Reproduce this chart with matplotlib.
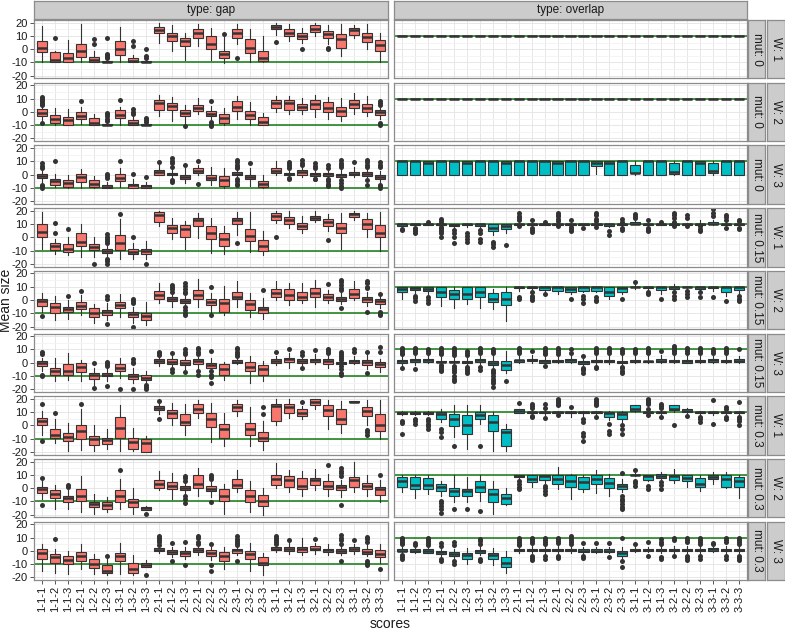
import matplotlib
matplotlib.use('Agg')
import matplotlib.pyplot as plt

plt.rcParams['font.family'] = ['Liberation Sans', 'DejaVu Sans']

# ---- data: (whisker low, q1, median, q3, whisker high) per score, outliers by score index ----
scores = ['1-1-1', '1-1-2', '1-1-3', '1-2-1', '1-2-2', '1-2-3', '1-3-1', '1-3-2', '1-3-3',
          '2-1-1', '2-1-2', '2-1-3', '2-2-1', '2-2-2', '2-2-3', '2-3-1', '2-3-2', '2-3-3',
          '3-1-1', '3-1-2', '3-1-3', '3-2-1', '3-2-2', '3-2-3', '3-3-1', '3-3-2', '3-3-3']
types = ['gap', 'overlap']
w_levels = ['1', '2', '3', '1', '2', '3', '1', '2', '3']
mut_levels = ['0', '0', '0', '0.15', '0.15', '0.15', '0.3', '0.3', '0.3']
target = {'gap': -10, 'overlap': 10}

gap_w1_m0 = [[-10, -2, 1, 6, 17.6], [-10, -10, -8, -2, -1.5], [-10, -10, -6.6, -3, 6.6], [-10, -6, -1, 4, 18.8],
             [-10, -10, -8, -6, -1.5], [-10, -10, -9.5, -8.6, -8], [-10, -4, 0, 6, 16.8], [-10, -10, -8.6, -7, -4],
             [-10, -10, -9.5, -8.6, -8], [4.8, 12, 14.5, 17, 20], [-1, 6, 10, 12, 18.3], [-8, 2.3, 6, 8.6, 12.5],
             [2.3, 8.6, 12.5, 15, 19.3], [-8, 0, 3.6, 10, 16.3], [-10.4, -6.6, -3.6, -1, 9.4], [3.6, 8.6, 12, 15.5, 19.3],
             [-10, -3, 1, 8, 15], [-10, -9, -6.6, -1, 10], [11, 15, 16.8, 18, 20], [6, 10, 12.5, 15, 19.3],
             [4.8, 7.4, 10, 12.5, 15.8], [10, 13, 15, 18, 20], [3.6, 8.6, 11.2, 13.7, 18.3], [-5.3, 1, 7.4, 11.2, 18.8],
             [8.1, 10.7, 14.2, 15.8, 18.3], [0, 5.6, 9.2, 12.5, 19.3], [-10, -1, 3, 6.9, 12.5]]
gap_w1_m0_out = {2: [8.7], 5: [7.4, 3.6], 6: [8.1, -3.3, -4.6, -5.8, -7], 8: [6, 2.3], 9: [0.3, -5.3, -6.6],
                 15: [11.7], 16: [-6.6], 19: [5.6], 21: [0], 23: [1, 0]}

gap_w2_m0 = [[-6, -3, -1, 2, 3.8], [-10, -8, -5.6, -2, 3.3], [-10, -10, -6.4, -4, 2], [-9.4, -5.6, -3, 0, 3.8],
             [-10, -10, -8, -4.8, -1.8], [-10, -10, -9.7, -9, -8.5], [-10, -4.8, -2.5, 1.3, 3.8], [-10, -10, -8, -6.4, -3],
             [-10, -10, -9.7, -9.4, -9], [-3, 1.3, 6.4, 8.9, 13], [-6.9, 1.3, 4.6, 6.9, 11], [-8, -3, -0.5, 1.8, 5.3],
             [-1.8, 0.8, 2.8, 5.3, 10.2], [-5.6, -3, -1.3, 0.8, 4.6], [-10, -8, -4.8, -1.8, 3.3], [-5.6, 0.8, 3.8, 8, 12],
             [-10, -5.6, -2.5, 0.8, 7.1], [-10, -10, -7.4, -3.8, -0.5], [0, 2.8, 6.4, 8.9, 11.7], [-1.8, 1.3, 6.4, 8.9, 12.2],
             [-1.8, 1.3, 3.8, 5.9, 10.2], [-3.8, 2, 5.9, 8.9, 13], [-5.6, 0.3, 2.8, 7.1, 11], [-6.9, -3, 0.8, 3.8, 10.2],
             [-1.8, 2.8, 5.9, 8.9, 14.5], [-3, 0.3, 2.8, 5.9, 12], [-5.6, -2.3, 0, 1.5, 3.3]]
gap_w2_m0_out = {1: [11, 10, 9, 8, 7, 6, 5, -8], 4: [8.4], 6: [-0.5, -1.8, -3, -5, -7], 7: [8.9], 8: [2, 0, -1.8],
                 9: [-4.3, -5.8, -7.4], 12: [-10.7], 14: [8.4, -7.4, -9.4, -10.7], 27: [8.4, 7, 5.3, -8, -10]}

gap_w3_m0 = [[-5.6, -2.5, -1, 0.8, 3.3], [-9.4, -7.6, -5, -3, 0.8], [-10, -9.4, -6, -3.8, 0], [-10, -5.6, -1.8, 0.8, 4],
             [-10, -9.4, -6.9, -4.3, -1], [-10, -10, -9.2, -8.1, -5.6], [-9.4, -5, -2.3, 0.8, 5], [-10, -10, -8.1, -6.9, -3],
             [-10, -10, -8.9, -7.6, -5.6], [-0.5, 0, 2, 3.8, 7.1], [-3, -0.5, 0.3, 1.3, 4], [-6, -3.6, -1.8, -0.5, 5],
             [-0.5, 1.3, 2.8, 4.6, 7.1], [-8.1, -4.3, -2.3, -0.5, 5.9], [-10, -8.6, -3.8, -1.3, 5], [-1.8, -0.5, 0.8, 2, 3.3],
             [-8.9, -3.6, -1.8, -0.5, 5], [-10, -9.4, -6.9, -4.8, 0], [-0.5, 1.3, 2.8, 4.6, 10.2], [-2, -0.5, 0.3, 1.3, 3.5],
             [-1.8, 0, 2, 3.3, 5.9], [-1.5, -1, 0.3, 1.3, 3], [-2.5, -1, 0.3, 1.3, 3], [-3.5, -1.8, -0.5, 0.8, 4],
             [-1.8, -0.5, 0.8, 2, 5.9], [-3, -1, 0.5, 2, 4.6], [-6, -3, -1.5, 0, 2.5]]
gap_w3_m0_out = {1: [8.4, 6.4, 4.6, -7.6, -8.9, -10.2], 2: [10.2], 6: [0.8, -1, -2.5], 7: [10.2], 8: [0.8], 9: [-1.8],
                 10: [9.2], 11: [12.2, 10.2, 8.4, 5.9, -4.3, -5.6], 12: [7.6], 13: [10.2, -6.9],
                 16: [11, 9.2, 7.6, 5.9, 4.6, -3, -5, -6.9, -8.1], 17: [8.4], 20: [9.7, 8, 6.4, 4.6, -2.5, -3],
                 21: [11, 9, 7.1], 22: [8.4, 6.4, 4.6, -3, -3.6], 23: [7.1, 5.3, -3.5, -5, -7, -8.6],
                 24: [11, 9, 7.1, 5.9, -4.3, -6.4, -8.4, -10.2], 25: [9.2], 26: [11, 9.2, 7.6, 5.9, -4.3, -7.6],
                 27: [9.2, 7.6, 5.9, -7.6, -8.9, -10.2]}

gap_w1_m15 = [[-8.5, 0.5, 3.8, 10.3, 19], [-12.3, -9.2, -6.7, -4, -1.5], [-13.6, -11, -8.5, -5.4, 0.5], [-15, -6.7, -3.3, 3, 10],
              [-15, -9.2, -7.2, -5.4, 0], [-14.4, -11.8, -10.5, -9, -5.9], [-16.2, -9.7, -4.1, 1.8, 13.8], [-16.2, -12.8, -11, -9, -4.6],
              [-16.2, -12.8, -10.5, -8.7, -2.6], [8.7, 11.3, 16.7, 19.2, 19.7], [-1.5, 3, 6.9, 9.5, 14.6], [-8.5, 0, 6.2, 9.5, 12],
              [-0.8, 8.2, 13.3, 14.6, 18.5], [-11.5, -1.5, 3, 8.2, 14.6], [-12.3, -6.7, -1.3, 3.6, 8.2], [1.8, 10.3, 12.8, 14.6, 19],
              [-11, -2.6, 1, 6.2, 19.2], [-13, -10.3, -6.4, -2, 4.4], [10.8, 13.3, 16.4, 18.5, 20], [6.9, 10.3, 13.3, 15.4, 19.7],
              [3, 6.2, 8.7, 11, 16], [11.3, 12.8, 14.6, 16.4, 19.7], [4.9, 8.7, 11.3, 13.8, 17.2], [-8.5, 3, 6.9, 10.8, 18.5],
              [13.3, 15.1, 17.2, 18.5, 19.7], [0.5, 6.2, 10.3, 13.8, 18], [-10.3, 0.5, 3, 9.2, 19]]
gap_w1_m15_out = {2: [10.8, 3], 3: [6.4], 5: [-20], 6: [2.3, 0, -1.5, -2.5, -4.6, -16.2, -18, -20], 7: [17.2], 8: [0.5],
                  9: [-20], 16: [-4.6], 19: [0], 23: [-2]}

gap_w2_m15 = [[-9, -4.6, -1, 0.5, 5.6], [-15.3, -9.7, -5, -2.5, 3], [-14, -9.4, -7.1, -5.6, 0], [-11.5, -7.1, -4.6, -1.3, 3.8],
              [-17.3, -12.7, -9.7, -6.4, -3], [-15.3, -11.5, -9.4, -7.6, -2.5], [-12.7, -6.4, -3.8, -1.3, 4.6], [-17.3, -12.7, -10.9, -9.4, -5],
              [-19, -14.8, -12.2, -9.7, -1.3], [-2.5, 0.5, 3.8, 7.1, 12.7], [-5, -0.5, 1, 2.5, 5], [-3.8, -2, -0.8, 0.5, 3],
              [-5, 0.5, 3.8, 7.6, 15.8], [-9, -3.8, -1.3, 0.5, 5], [-11.5, -9, -2.5, 0.5, 10.7], [-5, 0.5, 2.5, 6.4, 14.5],
              [-12.7, -7.6, -3.3, 0, 5], [-14, -9.7, -6.9, -5, 1.3], [0, 2, 5, 8.1, 14.5], [-3.8, 0, 3.8, 8.1, 12.7],
              [-2.5, 0, 2.5, 6.4, 12.7], [-5.6, 2, 5, 8.9, 14.8], [-2.5, 0, 2, 4.6, 7.6], [-3, -0.5, 0.8, 2.5, 5],
              [0, 1.3, 4.6, 8.1, 14.5], [-4.6, -1.3, 0.8, 2.5, 6.4], [-6.4, -3, -0.8, 0.5, 2.5]]
gap_w2_m15_out = {1: [-12.2], 3: [3], 4: [7.1], 6: [3, 0.5, -18.3], 8: [0.5, -1, -2, -20], 11: [11.5, 10, 8.4, 6.4],
                  12: [12.7, 10.5, 8.4, 6.4, 5, -5, -7.6, -9.7, -11.5], 14: [9.7, -11.5], 18: [7.6], 23: [12],
                  24: [15.3, 13.5, 11.5, 9.4, 7.6, -6.4], 26: [14, 12.5, 10, 8.9, -9], 27: [4.6, -9, -10.5, -11.5]}

gap_w3_m15 = [[-6.3, -2.5, -0.5, 1.3, 3.8], [-13.9, -8.9, -6.3, -3.8, 3.8], [-13, -8.9, -6.3, -1.3, 7], [-13.9, -7, -3, 0, 2],
              [-16.5, -12, -9.5, -7.6, -3.8], [-13.9, -10, -8.9, -7.6, -3.8], [-11.4, -6.3, -3.8, -0.8, 3.8], [-15.2, -12, -10, -8.2, -3.8],
              [-15, -12.7, -11.4, -9.5, -6.3], [-2.5, 0, 1.3, 2.5, 5], [-3.8, -0.8, 0.8, 2.5, 5.5], [-5, -1.8, 0, 1.8, 5],
              [-3.8, -0.8, 1, 2.5, 4.5], [-5, -3.8, -1.8, 0, 3.8], [-12.7, -8.9, -5, -0.8, 0.5], [-1.3, -0.5, 0.8, 2, 3],
              [-15.5, -6.3, -3, 0.5, 5], [-13.9, -8.9, -5, -2, 1.3], [-2, 0, 1.3, 2.5, 5], [-3.8, 0.5, 2.5, 3.8, 7.6],
              [-2, 0, 1.3, 2.5, 5], [-1.3, 0.5, 2, 3, 6.3], [-3.8, -0.8, 1, 2.5, 5.5], [-2, -1.3, -0.3, 0.5, 1.5],
              [-1.3, 0, 1, 2, 5], [-5, -1.8, 0.5, 2, 5.5], [-7, -3.3, -1.3, 0.5, 3]]
gap_w3_m15_out = {1: [8.2, 6.3, -8.9, -10], 5: [0, -19], 6: [0.5, -1.3, -2.5, -17.7], 7: [-19.5], 8: [2.5, 0.5, -0.5, -19.5],
                  9: [-17, -18.5, -20], 10: [8.2, 7, 5.8], 11: [7.6, -5, -7], 12: [10, 8.2, 6.8, -7],
                  13: [11.4, 10, 8.2, 6.3, -6.3, -8.9], 14: [8.9, -6.3, -8.9, -10.5, -15], 16: [11.4, 10, 8.2, 6.3, 5],
                  19: [8], 20: [10], 21: [8, 5.5, -3.8], 22: [9.5], 23: [10, 8.9, 7],
                  24: [8.2, 6.8, 5, 3.8, 2, -2.5, -5, -7.6, -9.5], 25: [10.5, 8.2], 26: [8, -7.6], 27: [11.8, 8.2]}

gap_w1_m3 = [[-6.9, 0, 3.3, 5.8, 11], [-13.2, -9.4, -6.9, -3, 4.6], [-19.6, -12, -8.7, -5.6, 2], [-18.8, -10.2, -4.3, 0, 12.2],
             [-19.6, -14.5, -10.2, -8.1, 0], [-17.8, -13.7, -11.2, -9.4, -3], [-19.6, -9.4, -1.8, 6.6, 15.3], [-19.6, -17.8, -12.7, -9.4, -1.8],
             [-20, -20, -13.2, -10.2, -8.1], [8.4, 11.5, 13, 14.8, 16.8], [0, 5.8, 9.2, 11.5, 16.8], [-6.9, 0, 2.5, 8.4, 16],
             [5.8, 9.2, 12.2, 16, 19.3], [-12.7, -1, 5, 9.2, 16.8], [-15.8, -9.4, -2.5, 0.8, 9.2], [7.1, 11, 13.5, 16, 19.3],
             [-15.8, -6.9, -3, 2, 13.5], [-18.8, -12, -9.4, -4.8, 3.3], [0, 3.3, 14.8, 16, 19.8], [5.8, 9.2, 13.5, 16, 19.8],
             [4.6, 7.1, 9.7, 12.2, 14.8], [12.2, 15.3, 18, 19.8, 20], [-3, 7.1, 11.7, 15.5, 19.3], [-5.6, 0.8, 5, 12.7, 18.6],
             [17.8, 17.8, 18, 18.3, 18.3], [0, 7.1, 11, 14, 19.3], [-10.2, -4.3, 0, 8.4, 19.3]]
gap_w1_m3_out = {1: [16, -12], 2: [9.7], 4: [16], 10: [18.6, 5], 18: [14.2, 8.4], 21: [17.3], 26: [-3.6, -5, -6.9]}

gap_w2_m3 = [[-8.1, -3.6, -0.5, 0.8, 5.1], [-15.8, -7.6, -4.3, -1.8, 2], [-15.8, -10.2, -7.6, -5.6, -0.5], [-18.3, -9.4, -5.6, -0.5, 8.9],
             [-19.6, -14.5, -12, -10.2, -4.3], [-18.3, -15.8, -12.7, -10.7, -6.9], [-15.8, -10.2, -6.1, -1.8, 7.1], [-19.6, -14.5, -10.7, -8.1, 0],
             [-16.5, -16.5, -15.3, -14.5, -13.2], [-1.8, 0, 3.3, 5.8, 12.7], [-8.1, -0.5, 1.5, 4.6, 11.7], [-4.3, -1.8, 0, 1.5, 4.6],
             [-6.1, 0, 3.3, 9.7, 14.8], [-6.9, -2.5, -0.5, 1.5, 4.6], [-19.6, -9.4, -6.1, -1, 3.3], [-3, 0, 2.5, 7.1, 14],
             [-17.8, -10.2, -5.6, -1.8, 5.1], [-20, -13.7, -9.4, -5.1, 0], [0, 2, 7.1, 9.7, 18.6], [-3, 0.8, 5.8, 8.9, 13.5],
             [-5.6, -0.5, 1.5, 7.9, 12.7], [-1.8, 2, 5.8, 7.6, 14.2], [-5.6, -1, 1.5, 5.1, 10.9], [-6.9, -1.8, 0.8, 2.5, 5.8],
             [-3, 0.8, 5.8, 8.4, 19.8], [-5.6, -1, 1.5, 4, 10.2], [-10.7, -5.1, -1, 0.8, 5.8]]
gap_w2_m3_out = {1: [7.9, -12.7], 3: [2, 1], 7: [14], 9: [-19.6], 12: [9.2, 7.6, 5.1, -5.6, -8.1, -11],
                 14: [10.2, 8.7, 6.6, -10.7], 23: [17.3], 24: [14.8, 13.2, 11.7, 9.2, -12.7], 27: [9.7]}

gap_w3_m3 = [[-15, -6, -1.5, 1, 4.8], [-16.8, -9, -5, -2.3, 1.5], [-17.6, -10, -7, -4, -0.5], [-14, -7.4, -4, -1, 4.8],
             [-17.6, -13, -10, -6, -2.3], [-18, -16.5, -15, -10.5, -6], [-17.6, -7.4, -4, -1.8, 5.8], [-18.3, -16.5, -14, -9, -3],
             [-12.5, -12.5, -10.8, -9.5, -7], [-2, -0.5, 0.8, 2, 3.5], [-5, -2.3, -1, 0.3, 3], [-6.5, -3.6, -1.3, -0.3, 3],
             [-3, -0.8, 0.8, 2.2, 4], [-7, -3.6, -1.3, 0.3, 4], [-14, -8, -3.6, -1, 2.5], [-3.5, -1.3, 0.3, 1.5, 3.5],
             [-15, -6, -2.3, -0.5, 6.1], [-18.3, -11, -9, -4.8, -1.3], [-1, 0.3, 1.3, 2.5, 4], [-2.5, -0.5, 1.3, 3, 5.8],
             [-3.5, -1, 1, 3, 10], [-2.5, 0.3, 1.5, 3.6, 5.8], [-3, -1, 0.3, 1.5, 4.8], [-3.5, -1.3, -0.3, 1.5, 4.5],
             [-2.5, 0, 1.5, 3, 5.5], [-4, -2.3, -1, 1, 4.5], [-9, -4.8, -2.3, 0.3, 5.5]]
gap_w3_m3_out = {2: [9.2], 6: [-3.6], 9: [-18.3], 10: [11, 9.5, 8, 6.8, 4.5], 11: [6.1, -7.4], 12: [6.6, -11],
                 13: [11.5, 9.5, 7, 5], 14: [4.8, -10.5, -15.5], 16: [11, 9, 7.6, 6, 4.5, -7.4], 19: [11, 9.5, 8, 6.5, 5],
                 20: [8.4], 22: [9], 24: [12, 10, 8, 5.5, -7.4], 25: [8.4], 26: [10.5, 9, 6.5, -7.4, -9, -10.5], 27: [-14]}

ov_w1_m0 = [[10, 10, 10, 10, 10]] * 27
ov_w1_m0_out = {}
ov_w2_m0 = [[10, 10, 10, 10, 10]] * 27
ov_w2_m0_out = {}

ov_w3_m0 = [[0, 0, 10, 10, 10], [0, 0, 10, 10, 10], [0, 0, 8.5, 10, 10], [0, 0, 10, 10, 10], [0, 0, 10, 10, 10],
            [0, 0, 8.5, 10, 10], [0, 0, 10, 10, 10], [0, 0, 10, 10, 10], [0, 0, 8.5, 10, 10], [0, 0, 10, 10, 10],
            [0, 0, 10, 10, 10], [0, 0, 10, 10, 10], [0, 0, 8.5, 10, 10], [0, 0, 10, 10, 10], [0, 0, 10, 10, 10],
            [0.8, 6.6, 8.7, 10, 10], [0, 0, 8.5, 10, 10], [0, 0, 10, 10, 10], [0, 1, 1.3, 7.5, 10], [0, 0, 10, 10, 10],
            [0, 0, 10, 10, 10], [0, 0.8, 2, 9, 10], [0, 0, 10, 10, 10], [0, 0, 8.5, 10, 10], [0, 1.5, 3, 9, 10],
            [0, 0, 10, 10, 10], [0, 0, 10, 10, 10]]
ov_w3_m0_out = {}

ov_w1_m15 = [[8, 8.7, 10, 10, 10], [8.5, 9, 10, 10, 10], [9, 9.5, 10, 10, 10.5], [8.5, 9.5, 10, 10, 10],
             [6.5, 8.2, 9.5, 10, 10], [8, 9, 10, 10, 10], [8, 8.7, 10, 10, 10], [1.9, 4.4, 7, 10, 10],
             [3.1, 6.2, 8.2, 10, 10], [9, 9.5, 10, 10, 11], [8.5, 9.5, 10, 10, 10.5], [9, 9.5, 10, 10, 10.5],
             [9, 9.5, 10, 10, 11], [8.5, 9.5, 10, 10, 10.5], [9, 9.5, 10, 10, 10], [9, 9.5, 10, 10, 11],
             [8, 8.2, 9.7, 10, 10], [8.5, 9, 10, 10, 10.5], [10, 10, 10, 11.3, 13], [8.5, 9.5, 10, 10, 10.5],
             [9, 9.5, 10, 10, 10.5], [9, 9.5, 10, 10, 10.5], [9, 9.5, 10, 10, 10.5], [9, 9.5, 10, 10, 12.8],
             [9.5, 10, 10, 11.3, 13], [9, 9.5, 10, 10, 11], [8.5, 9.5, 10, 10, 10.5]]
ov_w1_m15_out = {1: [6.5, 5.5], 2: [7, 6, 5, 3], 3: [11.2], 4: [13.8, 12.5, 11, 8, 7, 6, 5, 3, 0],
                 5: [5.7, 3.5, 0.6, -4.5], 6: [3.1, 1, -1, -3.2], 7: [5.7, 3, -1, -3.2], 8: [-3.2, -5, -7], 9: [-5.8],
                 10: [18.4, 16.2, 14.5, 13.3, 8.2], 11: [12.8, 7, 5.5, 4], 12: [11.5], 13: [18.4, 17, 16, 14, 12.5, 8.2],
                 14: [13.3, 7.5, 6, 5], 15: [7], 16: [18.4, 16.5, 14, 12.5, 8], 17: [4.4, 1.9], 18: [13.8, 11.3, 7, 5.7],
                 19: [17.9, 16, 14.5], 20: [13.3, 7, 5.7, 4.5], 21: [11.5], 22: [18.4, 16.5, 14.5, 11.3, 8.7],
                 23: [17, 14.6, 8.2], 24: [8.2, 6, 4.4], 25: [21, 18, 16], 26: [17, 15, 13, 7], 27: [13.3, 12, 7, 6]}

ov_w2_m15 = [[0.6, 5.7, 8.2, 10, 10], [5, 7.5, 8.7, 10, 10], [4.5, 7, 8.2, 10, 10], [-4.5, 1.9, 5.7, 10, 10],
             [-5.8, 1.1, 4.4, 7.7, 9.5], [-3.2, 0.6, 4.4, 10, 10], [-5.8, 2.4, 6.2, 10, 10], [-7, -1.5, 1.1, 5.2, 8.2],
             [-16, -4, 1.1, 6.4, 10], [7, 8.7, 10, 10, 10], [7, 8.7, 10, 10, 10], [5.6, 7.7, 9.5, 10, 10],
             [4.4, 7, 9.5, 10, 10], [4.4, 6.2, 8.2, 10, 10], [6, 7, 9.5, 10, 10], [6, 7, 9.5, 10, 10],
             [0.6, 3.1, 5.7, 10, 10], [4.4, 6.2, 9.2, 10, 10], [8.2, 9.5, 10, 10, 11.3], [7, 8.7, 10, 10, 10],
             [4.4, 7.7, 9.5, 10, 10], [8, 8.2, 10, 10, 12], [8, 9.5, 10, 10, 10], [6.5, 8.2, 10, 10, 10],
             [7, 8.7, 10, 10, 10], [3, 6.2, 9.5, 10, 10], [5, 7.7, 9.5, 10, 10]]
ov_w2_m15_out = {2: [3.1, 1.5, -0.7], 3: [1.9, 0, -2], 10: [0.6, 2], 11: [5.7, 3, 1.5, 0], 12: [4.4], 14: [0.6],
                 15: [3.1, 1, -2], 16: [1.9, 0, -0.7], 18: [0.6], 19: [13.8], 20: [5.7, 4.5], 21: [0.6],
                 22: [5.7, 3, 0.6], 23: [7, 4.4, 1.9], 24: [5.7, 1.9], 25: [1.9], 26: [-0.7], 27: [3.1, 1, -0.7]}

ov_w3_m15 = [[-2.5, -0.2, 1.1, 2.4, 4.9], [-2, 0.6, 1.8, 3.1, 5], [0, 0.6, 1.8, 3.1, 6], [-1, 0.6, 0.8, 1.1, 5],
             [-1, 0.3, 0.8, 1.1, 5], [-2, -0.5, 0.8, 1.1, 5], [-1, 0.6, 1.8, 3.1, 5], [-3, -1.5, -0.2, 1.1, 5],
             [-7.8, -5.3, -1.5, 1.1, 8.7], [0, 0.6, 1.8, 2.4, 6], [0, 1, 2, 3.1, 6], [-1, 0, 1.2, 2.4, 5],
             [-0.5, 0.6, 1.2, 2, 5], [0, 0.6, 1.8, 3.1, 6.5], [-2, -0.7, 0.3, 1, 3], [-2, 0.6, 1.2, 2.4, 5],
             [-1, 0.6, 1.2, 2.4, 6], [-2, -0.2, 0.8, 1.1, 5], [0, 0.6, 1.2, 2.4, 6], [0, 0.6, 1, 1.5, 6],
             [-0.5, 0.4, 1.5, 2.9, 6], [0, 0.6, 1.2, 1.8, 6], [-0.5, 0.1, 1.5, 2.4, 6], [0, 0.6, 1.2, 1.8, 5],
             [0, 0.6, 1.8, 2.9, 6], [0, 0.6, 1.2, 1.8, 6], [-0.5, 0.6, 1.5, 2.9, 5]]
ov_w3_m15_out = {1: [11.3, 10, 8.7, 7.5, 6.2, -4], 2: [11.3, 10, 8.7, 7.5, -4.8], 3: [10, 8.5, 7.2],
                 4: [11.3, 10, 8.7, 7.5, 6.2, -2, -3.2, -4.5, -5.5, -6.5],
                 5: [11.3, 10, 9, 7.5, 6, -2.5, -4, -5.5, -7, -10, -12, -14], 6: [8.7, 7.5, 6, -3, -4.5, -6, -7.8],
                 7: [11.3, 10, 8.7, 7.5, -3, -5.3], 8: [10, 8.5, 7, -5.3, -7, -8, -10, -12, -13.5, -15, -18], 9: [-14],
                 10: [11.3, 10, 8.7, 7.5], 11: [8.7], 12: [11.3, 10, 8.7, 7, 6.2, -2.7], 13: [11.3, 9.5, 8, 6.2],
                 14: [10.5, 7.5], 15: [5, -4, -5, -5.8, -7.8], 16: [11.3, 10, 8.7, 7.5, -3, -4], 17: [11.3, 10, 8.7, 7.5],
                 18: [10, 8.5, 7, -3, -4, -6, -7.8], 19: [10, 8.7, 7.5], 20: [11.3, 10, 9, 8, 7], 21: [8.7],
                 22: [12.5, 11, 9.5, 8.5, 7.5], 23: [11.3, 10, 8.7, 7.5], 24: [11.3, 10, 8.7, 7.5], 25: [10, 8.5, 7.5],
                 26: [11.3, 10, 8.7, 7.5], 27: [10.5]}

ov_w1_m3 = [[8, 8.7, 9.5, 10.2, 10.5], [8, 8.5, 9.5, 10, 10.5], [7.5, 8.5, 9.5, 10, 10.5], [2.5, 5, 8.7, 10, 12],
            [-9, -0.2, 5, 8.7, 15], [-18, -6.5, 0.3, 7.5, 15], [1.1, 5, 8, 10, 15], [-19.3, -4, 2.4, 7.5, 10],
            [-19.3, -15.4, -5.3, -2.7, 1.1], [9, 9.5, 10.8, 12, 12.5], [8, 9.5, 10, 10, 11], [8, 9.5, 10, 10, 11],
            [8, 9.5, 10, 10, 11], [6, 9.5, 10, 10, 11], [7, 9.5, 10, 10, 10.5], [7, 9.5, 10, 10, 11],
            [4, 6.2, 9.3, 10, 10.5], [2, 5, 8.7, 10, 10.5], [10, 10.8, 12.5, 15, 15], [8, 9.5, 10, 10, 11],
            [8, 9.5, 10, 10, 11], [10, 11.3, 12.5, 15, 15.5], [8.5, 10, 10.5, 12.5, 13], [7.5, 9.5, 10, 10, 10.5],
            [8, 9.5, 10, 10, 11], [8, 9.5, 10, 10, 11], [8, 9.5, 10, 10, 11]]
ov_w1_m3_out = {1: [3.6, 1.5, -6.5], 2: [5, 3, 1.1], 3: [5, 3, 1, -0.3, -2.7], 4: [-2.7, -5, -9], 5: [-15.4],
                7: [-15.4], 10: [17], 11: [16, 14.5, 13, 7, 6], 12: [16, 13, 5.5], 13: [20, 18.5, 17.6, 16, 15, 7.5],
                14: [14], 15: [5, 2.4, -6, -8, -12], 16: [20, 18.5, 17, 16, 15, 6], 17: [1, -4, -6.5], 18: [0, -3, -6.5],
                20: [20, 19, 18, 17, 16, 12.5, 7.5], 21: [16, 14.5, 13, 6.5], 22: [0.3], 23: [7], 24: [6.2, 4.5, 2.4],
                25: [19, 1.1], 26: [13.8, 12.5, 6, 5], 27: [17.6, 6, 5, 3, 0]}

ov_w2_m3 = [[-2.7, 0.6, 5.7, 8.2, 10], [-7.8, -0.7, 2.4, 8.2, 10], [-4.5, -0.7, 2.4, 7.7, 10], [-5.8, -2, 0.6, 3.1, 5.7],
            [-10.8, -5.8, -2, -0.2, 10], [-10.8, -5.8, -2, -0.7, 8.2], [-9.6, -3.2, 0.6, 5.7, 10], [-19.8, -10.3, -4.5, -0.7, 5.7],
            [-12.8, -12, -7.8, -4.5, -0.2], [6, 8.2, 9.2, 10, 10], [0.6, 4.4, 7, 10, 10], [3.1, 6.4, 9, 10, 10],
            [-0.7, 3.1, 7, 9.5, 15.8], [-8.3, 0.6, 5, 9.5, 10.8], [-3.2, -0.7, 4.4, 8.7, 10], [-3.7, 3.1, 7, 9.5, 13.3],
            [-5.8, -0.2, 3.6, 7.5, 10.8], [-3, -0.7, 1.4, 3.1, 6.5], [9, 9.5, 10, 10, 11.5], [5, 6.4, 9.2, 10, 10],
            [6, 7.5, 9, 10.8, 12], [3.5, 6.4, 9, 10, 14.6], [0.6, 5, 7.5, 10, 10], [-2, 0.6, 3.1, 7.7, 10],
            [3.1, 7, 8.7, 10, 12], [-0.2, 0.6, 7, 9.5, 12], [-7.8, 0.6, 5, 8.2, 10]]
ov_w2_m3_out = {4: [-9.6, -11.5, -13.5, -16, -18.5], 5: [-16], 6: [-15.4], 7: [-17], 10: [5.7, 3, 1, -0.7],
                12: [1.9, 0, -2, -4.5], 18: [11.5, -5.8, -8, -10, -12, -14, -16], 19: [14, 5.7, 3.5, 1.4],
                20: [1.4, -0.7], 21: [4.4, 2, -0.7]}

ov_w3_m3 = [[-2, -0.5, 0, 1, 3], [-2, -1, 0, 1, 3], [-2, -1.5, 0, 1.1, 3], [-4, -2.7, -1, 0, 2],
            [-6, -4, -2.5, -1, 1.5], [-10, -6.5, -3.5, -2, 2.4], [-3.5, -2, -0.5, 0.6, 3], [-11, -6.5, -3.5, -1.5, 2],
            [-17, -12, -9, -5, 0], [-2, 0, 0.8, 1.6, 3], [-2, -0.5, 0.5, 1.5, 3.5], [-2, -0.5, 0.5, 1.5, 3.5],
            [-2, -0.5, 0.5, 1.5, 3.5], [-2, -0.5, 0.5, 1.5, 3.5], [-2, -1, 0, 1, 3], [-2, -1, 0, 1, 3],
            [-2, -1, 0, 1, 3], [-6, -4, -2, -0.5, 3], [-1, 0, 0.8, 1.5, 3], [-1, 0, 0.8, 1.5, 3],
            [-2, -0.5, 0.5, 1.5, 3.5], [-2, -0.5, 0.5, 1.5, 3.5], [-2, -0.5, 0.5, 1.5, 3.5], [-2, -0.5, 0.5, 1.5, 3.5],
            [-1, 0, 1, 2, 3.5], [-2, -0.5, 0.5, 1.5, 3.5], [-2, -0.5, 0.5, 1.5, 3.5]]
ov_w3_m3_out = {1: [10, 9, 8, 7, 6, 5, -3.5, -5, -6], 2: [5.7, 4.5], 3: [10, 8.7, 7.5, 6, 4.5], 4: [6, 3.6, -6, -7.5],
                5: [6.5, 4, -8, -10], 7: [9, 7.5, 5, -6, -8], 10: [10, 8.5, 7, 5.5, 4], 11: [10, 9, 7.5, 6, -4, -5.5, -7],
                12: [10, 8.5, 7, 5.5, -4, -6], 13: [10, 9, 7.5, 6, -4, -5.5], 14: [10.8, 9.5, 8, 6.5, 5],
                15: [5.7, -4, -5.5], 16: [6], 17: [6, -5], 18: [10, -8, -12], 19: [5], 20: [7, -4],
                21: [9, 7, 5.5, -4.5, -6], 22: [9.5, 8, -4], 23: [10, 8.5, 7, -4, -5.5, -7],
                24: [10, 8.5, 7, 5.5, -4, -6], 25: [6, 5], 26: [10, 8.5, 7, -4, -6], 27: [10, 8.5, 7, 5.5, -4, -5.5, -7]}

gap_rows = [(gap_w1_m0, gap_w1_m0_out), (gap_w2_m0, gap_w2_m0_out), (gap_w3_m0, gap_w3_m0_out),
            (gap_w1_m15, gap_w1_m15_out), (gap_w2_m15, gap_w2_m15_out), (gap_w3_m15, gap_w3_m15_out),
            (gap_w1_m3, gap_w1_m3_out), (gap_w2_m3, gap_w2_m3_out), (gap_w3_m3, gap_w3_m3_out)]
ov_rows = [(ov_w1_m0, ov_w1_m0_out), (ov_w2_m0, ov_w2_m0_out), (ov_w3_m0, ov_w3_m0_out),
           (ov_w1_m15, ov_w1_m15_out), (ov_w2_m15, ov_w2_m15_out), (ov_w3_m15, ov_w3_m15_out),
           (ov_w1_m3, ov_w1_m3_out), (ov_w2_m3, ov_w2_m3_out), (ov_w3_m3, ov_w3_m3_out)]
fills = {'gap': '#F8766D', 'overlap': '#00BFC4'}

# ---- layout in pixels ----
W, H = 785, 632
fig = plt.figure(figsize=(W / 100, H / 100), dpi=100)
fig.patch.set_facecolor('white')


def rect(x0, y0, x1, y1):
    return [x0 / W, 1 - y1 / H, (x1 - x0) / W, (y1 - y0) / H]


def to_stats(rows, outs):
    stats = []
    for i, (lo, q1, med, q3, hi) in enumerate(rows, start=1):
        stats.append(dict(whislo=lo, q1=q1, med=med, q3=q3, whishi=hi, fliers=outs.get(i, [])))
    return stats


def strip(x0, y0, x1, y1, text, rot):
    sa = fig.add_axes(rect(x0, y0, x1, y1))
    sa.set_xticks([])
    sa.set_yticks([])
    sa.set_facecolor('#CCCCCC')
    for s in sa.spines.values():
        s.set_color('#8C8C8C')
        s.set_linewidth(0.9)
    sa.text(0.5, 0.5, text, transform=sa.transAxes, ha='center', va='center',
            rotation=rot, fontsize=8.5, color='#1A1A1A')


cols_x = [(34, 388), (394, 747)]
top0, pitch, ph = 20, 62.7, 58.4
edge = '#333333'

for c, t in enumerate(types):
    x0, x1 = cols_x[c]
    strip(x0, 1, x1, 19, 'type: ' + t, 0)
    rows = gap_rows if t == 'gap' else ov_rows
    for r in range(9):
        y0 = top0 + r * pitch
        ax = fig.add_axes(rect(x0, y0, x1, y0 + ph))
        ax.set_facecolor('white')
        ax.set_xlim(0.4, 27.6)
        ax.set_ylim(-22, 22)
        ax.set_yticks([-20, -10, 0, 10, 20])
        ax.set_yticks([-15, -5, 5, 15], minor=True)
        ax.set_xticks(range(1, 28))
        ax.grid(True, which='major', color='#E3E3E3', lw=0.6, zorder=0)
        ax.grid(True, which='minor', axis='y', color='#F3F3F3', lw=0.6, zorder=0)
        ax.set_axisbelow(True)
        ax.axhline(target[t], color='#0F7A0F', lw=1.1, zorder=1.5)
        rows_stats, outs = rows[r]
        ax.bxp(to_stats(rows_stats, outs), positions=range(1, 28), widths=0.78,
               patch_artist=True, showcaps=False,
               boxprops=dict(facecolor=fills[t], edgecolor=edge, linewidth=0.8),
               medianprops=dict(color=edge, linewidth=1.8),
               whiskerprops=dict(color=edge, linewidth=0.8),
               flierprops=dict(marker='o', markerfacecolor=edge, markeredgecolor='none', markersize=3.6),
               manage_ticks=False)
        for s in ax.spines.values():
            s.set_color('#8C8C8C')
            s.set_linewidth(0.9)
        ax.tick_params(axis='both', which='minor', length=0)
        ax.tick_params(axis='both', which='major', length=3, width=0.7, color='#555555',
                       labelsize=8, labelcolor='#1A1A1A', pad=1.5)
        if c == 0:
            ax.set_yticklabels(['-20', '-10', '0', '10', '20'])
        else:
            ax.tick_params(axis='y', length=0, labelleft=False)
        if r == 8:
            ax.set_xticklabels(scores, rotation=90, fontsize=8)
        else:
            ax.tick_params(axis='x', length=0, labelbottom=False)
        if c == 1:
            strip(748, y0, 765, y0 + ph, 'mut: ' + mut_levels[r], -90)
            strip(767, y0, 784.5, y0 + ph, 'W: ' + w_levels[r], -90)

fig.text(390 / W, 1 - 624 / H, 'scores', ha='center', va='center', fontsize=10, color='#1A1A1A')
fig.text(6 / W, 1 - 300 / H, 'Mean size', ha='center', va='center', rotation=90, fontsize=10, color='#1A1A1A')

fig.savefig('out.png', dpi=100, facecolor='white')
